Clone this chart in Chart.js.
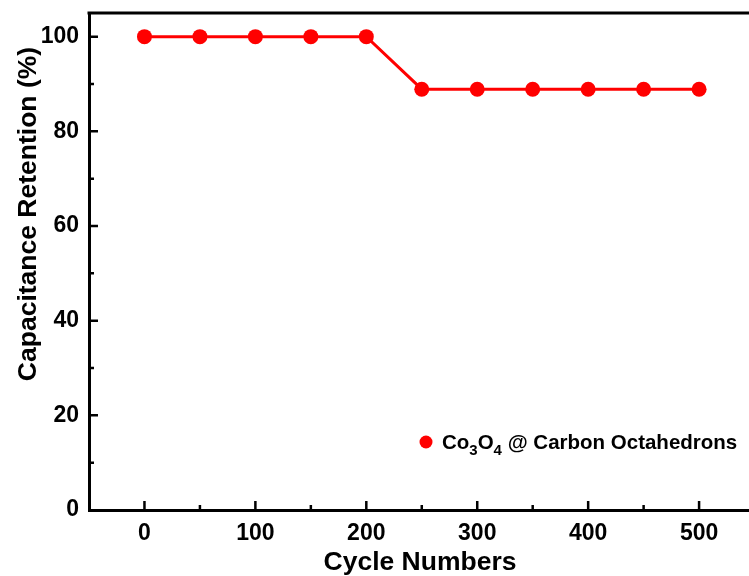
<!DOCTYPE html>
<html>
<head>
<meta charset="utf-8">
<script src="https://cdn.jsdelivr.net/npm/chart.js@4/dist/chart.umd.min.js"></script>
<style>
    html, body { margin: 0; padding: 0; background: #ffffff; }
    #wrap { width: 749px; height: 576px; }
</style>
</head>
<body>
<div id="wrap"><canvas id="retentionChart" width="749" height="576"></canvas></div>
<script>
let cycles = [0, 50, 100, 150, 200, 250, 300, 350, 400, 450, 500];
let retention = [100, 100, 100, 100, 100, 88.9, 88.9, 88.9, 88.9, 88.9, 88.9];
let xTickLabels = [0, 100, 200, 300, 400, 500];
let yTickLabels = [0, 20, 40, 60, 80, 100];
let xMinorTicks = [50, 150, 250, 350, 450];
let yMinorTicks = [10, 30, 50, 70, 90];

let fontFamily = "'Liberation Sans', Arial, sans-serif";
let red = "#ff0000";

// inward ticks, top border, axis titles and the legend with subscripts
let decorPlugin = {
    id: "decor",
    afterDraw: function(chart) {
        let ctx = chart.ctx;
        let area = chart.chartArea;
        let xs = chart.scales.x;
        let ys = chart.scales.y;

        ctx.save();
        ctx.strokeStyle = "#000000";
        ctx.lineWidth = 3;
        ctx.beginPath();
        ctx.moveTo(area.left - 1.5, area.top);
        ctx.lineTo(area.right, area.top);
        ctx.stroke();

        ctx.lineWidth = 2.5;
        ctx.beginPath();
        for (let i = 0; i < xTickLabels.length; i++) {
            let px = xs.getPixelForValue(xTickLabels[i]);
            ctx.moveTo(px, area.bottom);
            ctx.lineTo(px, area.bottom - 9);
        }
        for (let i = 0; i < xMinorTicks.length; i++) {
            let px = xs.getPixelForValue(xMinorTicks[i]);
            ctx.moveTo(px, area.bottom);
            ctx.lineTo(px, area.bottom - 5);
        }
        for (let i = 1; i < yTickLabels.length; i++) {
            let py = ys.getPixelForValue(yTickLabels[i]);
            ctx.moveTo(area.left, py);
            ctx.lineTo(area.left + 9, py);
        }
        for (let i = 0; i < yMinorTicks.length; i++) {
            let py = ys.getPixelForValue(yMinorTicks[i]);
            ctx.moveTo(area.left, py);
            ctx.lineTo(area.left + 5, py);
        }
        ctx.stroke();

        // axis titles
        ctx.fillStyle = "#000000";
        ctx.font = "bold 26.5px " + fontFamily;
        ctx.textAlign = "center";
        ctx.textBaseline = "alphabetic";
        ctx.fillText("Cycle Numbers", 420, 570);

        ctx.save();
        ctx.translate(36, 214);
        ctx.rotate(-Math.PI / 2);
        ctx.fillText("Capacitance Retention (%)", 0, 0);
        ctx.restore();

        // legend
        let lx = 426;
        let ly = 442;
        ctx.fillStyle = red;
        ctx.beginPath();
        ctx.arc(lx, ly, 6.5, 0, Math.PI * 2);
        ctx.fill();

        let parts = [
            { t: "Co", sub: false },
            { t: "3", sub: true },
            { t: "O", sub: false },
            { t: "4", sub: true },
            { t: " @ Carbon Octahedrons", sub: false }
        ];
        let tx = 442;
        ctx.fillStyle = "#000000";
        ctx.textAlign = "left";
        for (let i = 0; i < parts.length; i++) {
            if (parts[i].sub) {
                ctx.font = "bold 15px " + fontFamily;
                ctx.fillText(parts[i].t, tx, 455);
            } else {
                ctx.font = "bold 20.5px " + fontFamily;
                ctx.fillText(parts[i].t, tx, 449);
            }
            tx += ctx.measureText(parts[i].t).width;
        }
        ctx.restore();
    }
};

function noScalePadding(scale) {
    scale.paddingTop = 0;
    scale.paddingBottom = 0;
    scale.paddingLeft = 0;
    scale.paddingRight = 0;
}

new Chart(document.getElementById("retentionChart"), {
    type: "line",
    data: {
        labels: cycles,
        datasets: [{
            label: "Co3O4 @ Carbon Octahedrons",
            data: cycles.map(function(c, i) { return { x: c, y: retention[i] }; }),
            borderColor: red,
            backgroundColor: red,
            borderWidth: 3,
            pointRadius: 7.5,
            pointHoverRadius: 7.5,
            pointBorderWidth: 0,
            tension: 0
        }]
    },
    options: {
        responsive: false,
        animation: false,
        layout: { autoPadding: false, padding: { top: 13, right: 0, left: 0, bottom: 0 } },
        plugins: {
            legend: { display: false },
            tooltip: { enabled: false }
        },
        scales: {
            x: {
                type: "linear",
                min: -50,
                max: 545,
                grid: { display: false, drawTicks: false },
                border: { display: true, color: "#000000", width: 3 },
                ticks: {
                    color: "#000000",
                    padding: 10,
                    font: { family: fontFamily, size: 23, weight: "bold" }
                },
                afterBuildTicks: function(scale) {
                    scale.ticks = xTickLabels.map(function(v) { return { value: v }; });
                },
                afterFit: function(scale) {
                    scale.height = 66;
                    noScalePadding(scale);
                }
            },
            y: {
                min: 0,
                max: 105,
                grid: { display: false, drawTicks: false },
                border: { display: true, color: "#000000", width: 3 },
                ticks: {
                    color: "#000000",
                    padding: 10,
                    font: { family: fontFamily, size: 23, weight: "bold" }
                },
                afterBuildTicks: function(scale) {
                    scale.ticks = yTickLabels.map(function(v) { return { value: v }; });
                },
                afterFit: function(scale) {
                    scale.width = 89;
                    noScalePadding(scale);
                }
            }
        }
    },
    plugins: [decorPlugin]
});
</script>
</body>
</html>
